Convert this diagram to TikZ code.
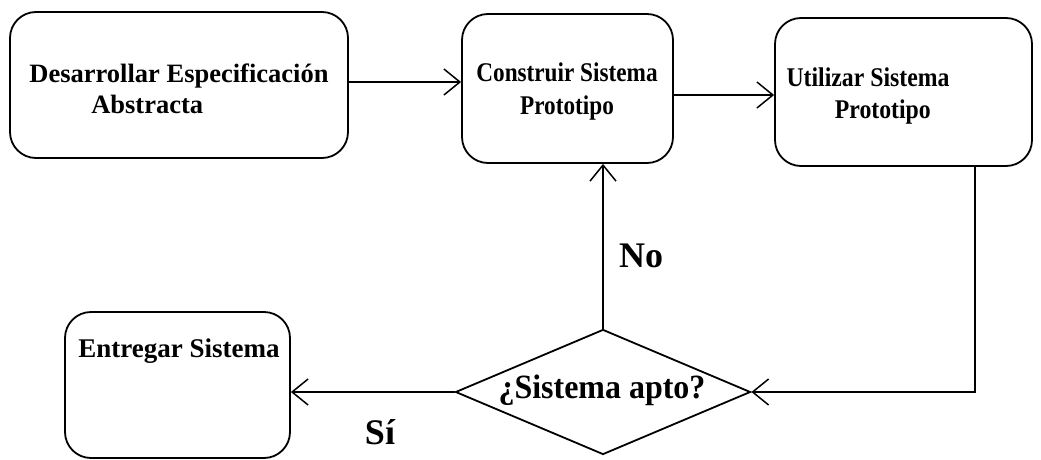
\documentclass[tikz,border=0pt]{standalone}
\usepackage{fontspec}
\setmainfont{Liberation Serif}
\newfontfamily\narrowA[FakeStretch=0.86]{Liberation Serif}
\newfontfamily\narrowB[FakeStretch=0.88]{Liberation Serif}
\newfontfamily\narrowC[FakeStretch=0.94]{Liberation Serif}
\usetikzlibrary{shapes.geometric,arrows.meta}
\begin{document}
\begin{tikzpicture}[x=1pt,y=-1pt,
  every node/.style={font=\bfseries},
  stepbox/.style={draw,line width=1.8pt,rounded corners=26pt,inner sep=0pt},
  decision/.style={draw,diamond,line width=1.8pt,inner sep=0pt},
  boxtext/.style={align=center,inner sep=0pt},
  flow/.style={line width=1.5pt,-{Straight Barb[length=16pt,width=26pt,line width=1.5pt]}},
  tag/.style={font=\bfseries\fontsize{36}{36}\selectfont,inner sep=0pt}]
\useasboundingbox (0,0) rectangle (1041,460);

% process boxes
\node[stepbox,minimum width=338pt,minimum height=146pt] (b1) at (179,85) {};
\node[stepbox,minimum width=211pt,minimum height=149pt] (b2) at (567.5,88.5) {};
\node[stepbox,minimum width=257pt,minimum height=148pt] (b3) at (903.5,92) {};
\node[stepbox,minimum width=225pt,minimum height=146pt] (b4) at (177.5,385) {};

% box captions
\node[boxtext,font=\bfseries\fontsize{26.5}{31}\selectfont] (t1) at (179,89)
  {Desarrollar Especificación\\\hspace*{-2.4em}Abstracta};
\node[boxtext,font=\narrowA\bfseries\fontsize{27}{33}\selectfont] (t2) at (567,92)
  {Construir Sistema\\Prototipo};
\node[boxtext,font=\narrowB\bfseries\fontsize{27}{32}\selectfont] (t3) at (868,96)
  {Utilizar Sistema\\\hspace*{1.1em}Prototipo};
\node[boxtext,font=\bfseries\fontsize{27}{32}\selectfont] (t4) at (179,351) {Entregar Sistema};

% decision
\node[decision,minimum width=295pt,minimum height=125pt] (d) at (603,392) {};
\node[boxtext,font=\narrowC\bfseries\fontsize{34}{36}\selectfont] (td) at (602,390) {¿Sistema apto?};

% connectors
\draw[flow] ([yshift=3pt]b1.east) -- ([yshift=3pt]b1.east -| b2.west);
\draw[flow] ([yshift=-6.5pt]b2.east) -- ([yshift=-6.5pt]b2.east -| b3.west);
\draw[flow] ([xshift=71.5pt]b3.south) |- (d.east);
\draw[flow] (d.north) -- (d.north |- b2.south);
\draw[flow] (d.west) -- (d.west -| b4.east);

% branch labels
\node[tag] (no) at (641,256) {No};
\node[tag] (si) at (380,432) {Sí};
\end{tikzpicture}
\end{document}
